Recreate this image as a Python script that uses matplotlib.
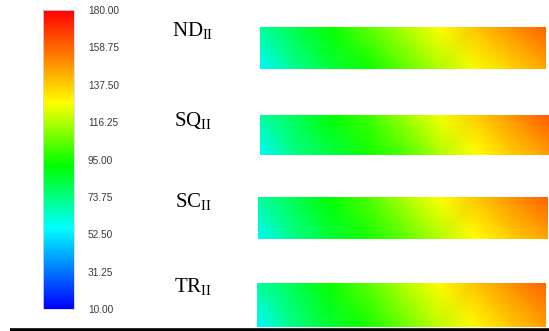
import matplotlib
matplotlib.use('Agg')
import matplotlib.pyplot as plt
from matplotlib.colors import LinearSegmentedColormap, Normalize
from matplotlib.cm import ScalarMappable
import numpy as np

# colour scale
vmin, vmax = 10., 180.
cbar_ticks = [10.00, 31.25, 52.50, 73.75, 95.00, 116.25, 137.50, 158.75, 180.00]

# strips: sampled values along the length (top edge / bottom edge)
labels = ['ND', 'SQ', 'SC', 'TR']
xpos = [0, .125, .25, .375, .5, .625, .75, .875, 1.]
nd_top = [70, 82, 93, 104, 116, 128, 139, 150, 160]
nd_bot = [55, 72, 84, 93, 104, 115, 126, 136, 145]
sq_top = [70, 80, 92, 100, 114, 126, 138, 150, 161]
sq_bot = [55, 74, 83, 94, 102, 116, 127, 138, 147]
sc_top = [70, 81, 92, 102, 115, 127, 139, 150, 160]
sc_bot = [55, 73, 84, 94, 104, 116, 127, 137, 146]
tr_top = [70, 81, 93, 103, 116, 128, 139, 150, 160]
tr_bot = [55, 73, 85, 94, 105, 117, 128, 138, 147]
strips = [(nd_top, nd_bot), (sq_top, sq_bot), (sc_top, sc_bot), (tr_top, tr_bot)]

W, H = 549., 331.
# strip boxes in pixels: left, top, right, bottom
boxes = [(260, 27, 546, 69), (260, 115, 549, 155),
         (258, 197, 548, 239), (257, 283, 546, 327)]
label_xy = [(172, 31), (174, 121), (175, 202), (174, 287)]

cmap = LinearSegmentedColormap.from_list(
    'rainbow_fe', [(0., (0, 0, 1)), (.27, (0, 1, 1)), (.48, (0, 1, 0)),
                   (.69, (1, 1, 0)), (1., (1, 0, 0))])
norm = Normalize(vmin, vmax)

plt.rcParams.update({'mathtext.fontset': 'custom',
                     'mathtext.rm': 'Liberation Serif'})


def px_axes(fig, l, t, r, b):
    return fig.add_axes([l / W, 1 - b / H, (r - l) / W, (b - t) / H])


fig = plt.figure(figsize=(W / 100, H / 100), dpi=100)

cax = px_axes(fig, 43, 10, 74, 309)
cb = fig.colorbar(ScalarMappable(norm=norm, cmap=cmap), cax=cax, ticks=cbar_ticks)
cb.ax.set_yticklabels(['%.2f' % t for t in cbar_ticks])
cb.ax.tick_params(length=0, pad=10, labelsize=7.3, labelcolor='#3a3a3a')
for t in cb.ax.get_yticklabels():
    t.set_family('Liberation Sans')
cb.outline.set_edgecolor('#d8d8f0')
cb.outline.set_linewidth(.6)

for (top, bot), box, lab, (lx, ly) in zip(strips, boxes, labels, label_xy):
    ax = px_axes(fig, *box)
    X, Y = np.meshgrid(xpos, [0, 1])
    C = np.array([bot, top], dtype=float)
    ax.pcolormesh(X, Y, C, shading='gouraud', cmap=cmap, norm=norm)
    ax.set_xlim(0, 1)
    ax.set_ylim(0, 1)
    ax.axis('off')
    fig.text(lx / W, 1 - ly / H, lab + r'$_{\mathrm{II}}$', family='Liberation Serif',
             fontsize=15, ha='left', va='center', color='k')

fig.add_artist(plt.Line2D([10 / W, 1], [1 - 329.5 / H] * 2, transform=fig.transFigure,
                          color='k', lw=2.6, solid_capstyle='butt'))

fig.savefig('out.png', dpi=100)
